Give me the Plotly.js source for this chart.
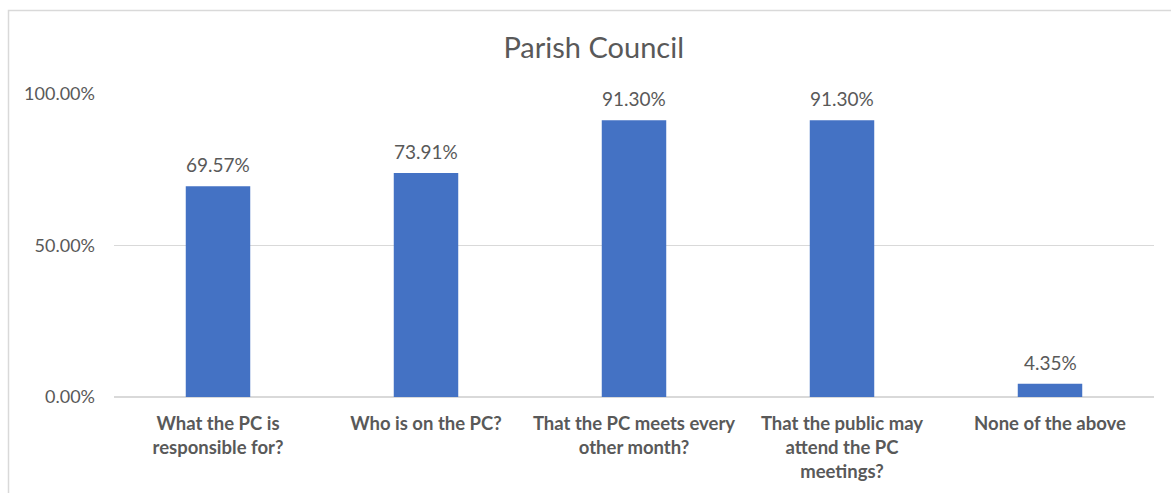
<!DOCTYPE html>
<html>
<head>
<meta charset="utf-8">
<script src="https://cdn.plot.ly/plotly-3.0.1.min.js"></script>
<style>html,body{margin:0;padding:0;background:#fff;}#chart{width:1171px;height:493px;}</style>
</head>
<body>
<div id="chart"></div>
<script>
var categories = [
  "What the PC is<br>responsible for?",
  "Who is on the PC?",
  "That the PC meets every<br>other month?",
  "That the public may<br>attend the PC<br>meetings?",
  "None of the above"
];
var values = [69.57, 73.91, 91.30, 91.30, 4.35];
var tickVals = [0, 50, 100];
var tickText = ["0.00%", "50.00%", "100.00%"];

var FONT = "Lato, Carlito, 'Open Sans', sans-serif";
var GREY = "#595959";

var trace = {
  type: "bar",
  x: categories,
  y: values,
  marker: {color: "#4472C4"},
  hoverinfo: "skip"
};

var annotations = values.map(function(v, i){
  return {
    x: categories[i], y: v, xref: "x", yref: "y",
    text: v.toFixed(2) + "%", showarrow: false,
    yanchor: "bottom", yshift: 8,
    font: {family: FONT, size: 19, color: GREY}
  };
});

var layout = {
  width: 1171, height: 493,
  margin: {l: 114, r: 17, t: 94, b: 96},
  paper_bgcolor: "#fff", plot_bgcolor: "#fff",
  bargap: 0.69,
  showlegend: false,
  title: {text: "Parish Council", x: 0.507, xanchor: "center", y: 0.903, yanchor: "middle",
          font: {family: FONT, size: 29, color: GREY}},
  xaxis: {
    showgrid: false, zeroline: false, showline: false, ticks: "",
    tickfont: {family: FONT, size: 18.5, color: GREY, weight: "bold"},
    ticklabelstandoff: 13,
    fixedrange: true
  },
  yaxis: {
    range: [0, 100], tickvals: tickVals, ticktext: tickText,
    showgrid: true, gridcolor: "#d9d9d9", gridwidth: 1.5,
    zeroline: true, zerolinecolor: "#d9d9d9", zerolinewidth: 1.5,
    showline: false, ticks: "",
    tickfont: {family: FONT, size: 18, color: GREY},
    ticklabelstandoff: 18,
    fixedrange: true
  },
  annotations: annotations,
  shapes: [{
    type: "rect", xref: "paper", yref: "paper",
    x0: (8.5 - 114) / 1040, x1: (1180 - 114) / 1040,
    y0: (397 - 500) / 303, y1: (397 - 10.5) / 303,
    line: {color: "#d9d9d9", width: 1.5}, fillcolor: "rgba(0,0,0,0)", layer: "below"
  }]
};

Plotly.newPlot("chart", [trace], layout, {staticPlot: true, displayModeBar: false});
</script>
</body>
</html>
